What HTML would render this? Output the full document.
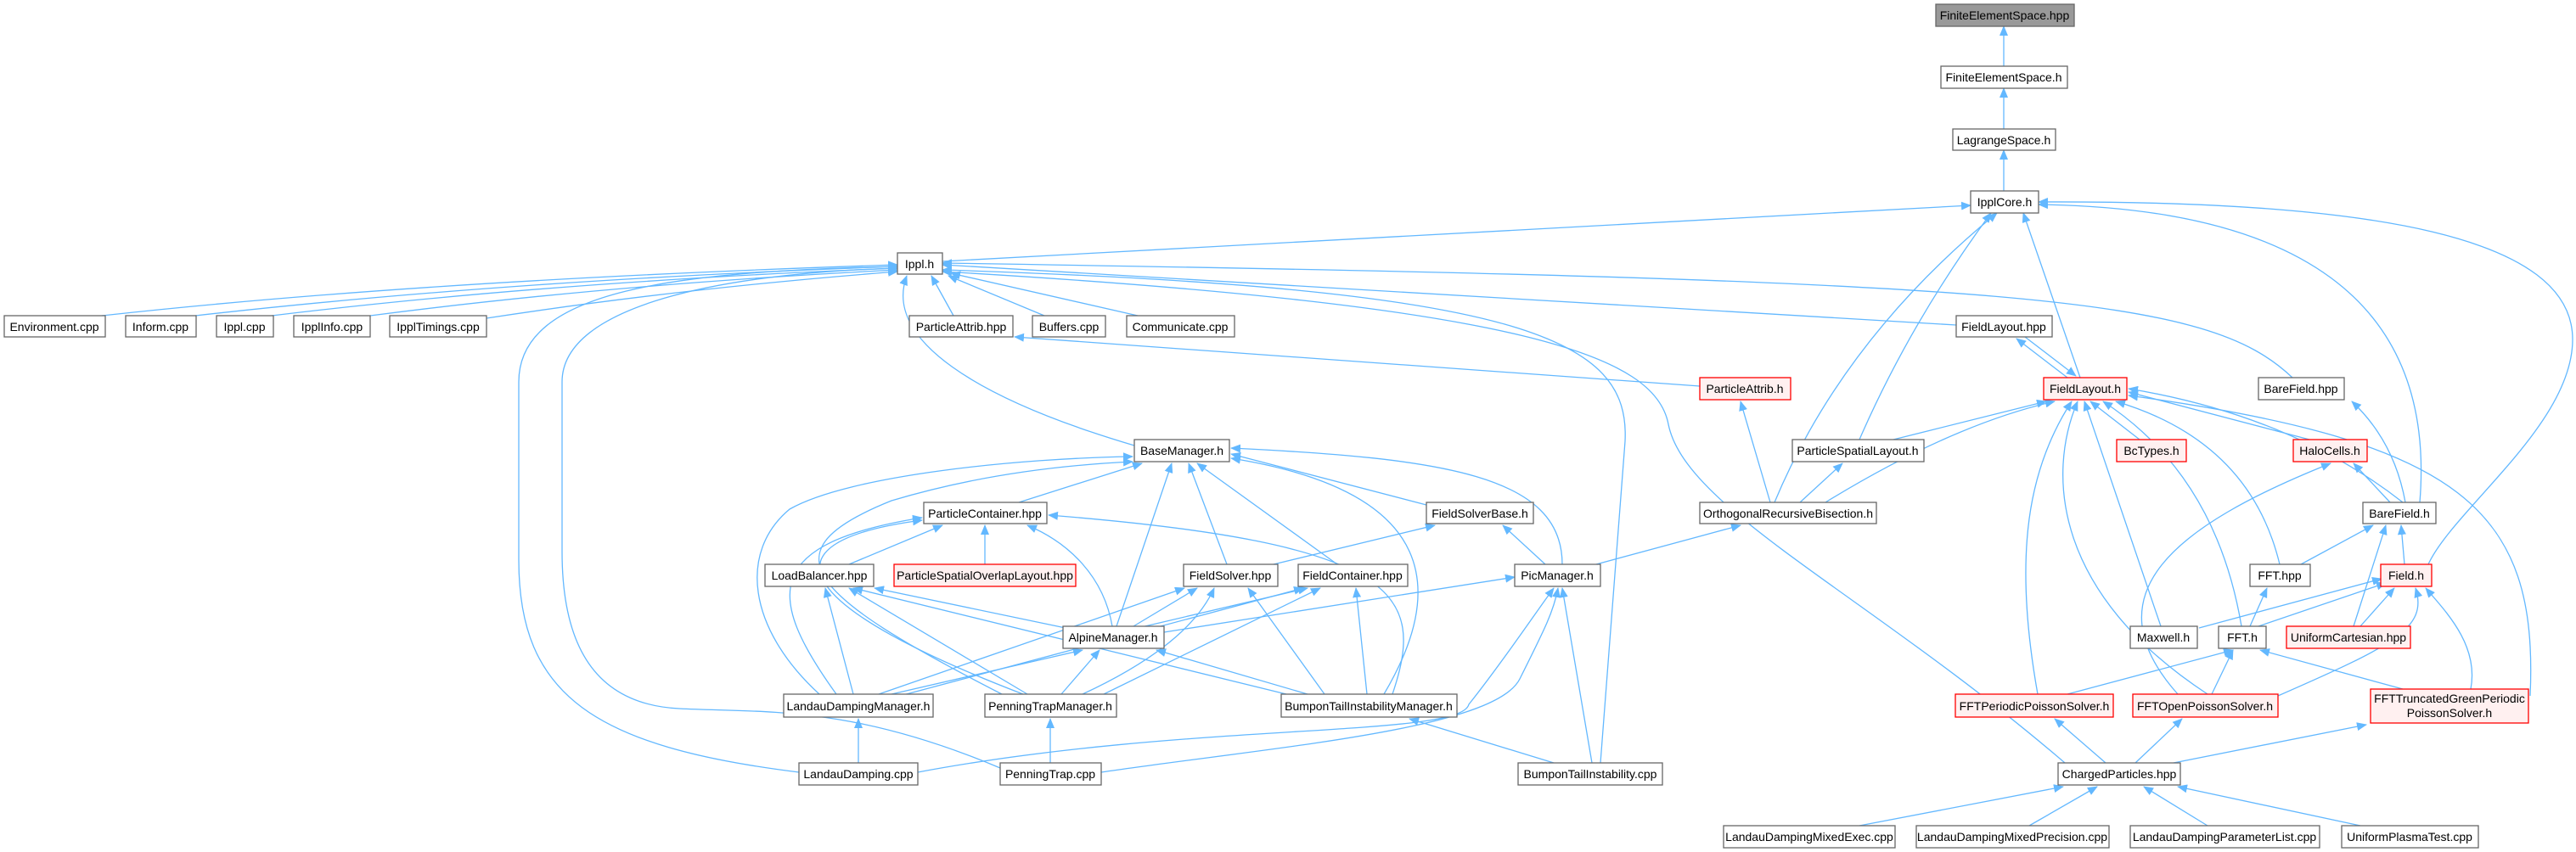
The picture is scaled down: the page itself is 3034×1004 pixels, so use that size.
<!DOCTYPE html>
<html><head><meta charset="utf-8"><style>
html,body{margin:0;padding:0;background:#fff;}
svg{display:block;}
text{font-family:"Liberation Sans",Arial,sans-serif;font-size:14px;fill:#000;text-anchor:middle;}
.e{fill:none;stroke:#63b8ff;stroke-width:1.3;marker-end:url(#a);}
.n{fill:#fff;stroke:#666;stroke-width:1.3;}
.r{fill:#fff0f0;stroke:#f00;stroke-width:1.3;}
.g{fill:#999;stroke:#666;stroke-width:1.3;}
</style></head><body>
<svg width="3034" height="1004" viewBox="0 0 3034 1004" xmlns="http://www.w3.org/2000/svg">
<defs><marker id="a" markerWidth="12" markerHeight="10" refX="11" refY="5" orient="auto" markerUnits="userSpaceOnUse"><path d="M0,0 L12,5 L0,10 z" fill="#63b8ff"/></marker></defs>
<g>
<path class="e" d="M2360 78 L2360 31"/>
<path class="e" d="M2360 152 L2360 104"/>
<path class="e" d="M2360 225 L2360 177"/>
<path class="e" d="M1110 308 L2321 242"/>
<path class="e" d="M2190 518 Q2250 380 2345 251"/>
<path class="e" d="M2090 592 Q2170 400 2352 251"/>
<path class="e" d="M2450 445 L2383 251"/>
<path class="e" d="M2850 592 C2870 350 2700 245 2401 241"/>
<path class="e" d="M2860 665 C2890 600 3030 500 3030 400 C3030 280 2800 236 2401 238"/>
<path class="e" d="M120 372 Q500 330 1057 312"/>
<path class="e" d="M230 372 Q600 330 1057 314"/>
<path class="e" d="M320 372 Q650 332 1057 316"/>
<path class="e" d="M436 372 Q720 335 1057 318"/>
<path class="e" d="M573 375 Q800 340 1057 320"/>
<path class="e" d="M1123 372 L1097 325"/>
<path class="e" d="M1230 372 L1117 325"/>
<path class="e" d="M1340 372 L1120 322"/>
<path class="e" d="M1336 525 C1150 470 1040 400 1068 325"/>
<path class="e" d="M941 910 C700 880 611 820 611 660 L611 450 C611 340 800 320 1057 314"/>
<path class="e" d="M1178 905 C1000 830 900 840 800 835 C700 830 662 760 662 650 L662 450 C662 360 850 322 1057 316"/>
<path class="e" d="M1885 899 L1914 520 C1920 400 1800 340 1110 318"/>
<path class="e" d="M2432 899 C2200 700 1985 600 1965 500 C1950 420 1800 360 1110 320"/>
<path class="e" d="M2304 383 L1110 312"/>
<path class="e" d="M2700 445 C2600 350 2400 330 1110 310"/>
<path class="e" d="M2002 455 L1195 397"/>
<path class="e" d="M2435 445 L2375 399"/>
<path class="e" d="M2385 397 L2445 443"/>
<path class="e" d="M2230 518 L2410 473"/>
<path class="e" d="M2150 592 Q2300 500 2420 473"/>
<path class="e" d="M2520 518 L2462 473"/>
<path class="e" d="M2720 518 L2507 462"/>
<path class="e" d="M2830 592 Q2700 490 2507 458"/>
<path class="e" d="M2685 665 Q2650 520 2492 473"/>
<path class="e" d="M2640 738 Q2610 560 2477 473"/>
<path class="e" d="M2545 738 L2455 473"/>
<path class="e" d="M2400 818 C2370 650 2390 550 2440 473"/>
<path class="e" d="M2600 818 C2420 700 2410 560 2447 473"/>
<path class="e" d="M2980 820 C2990 600 2900 520 2507 466"/>
<path class="e" d="M2085 592 L2050 473"/>
<path class="e" d="M2120 592 L2170 546"/>
<path class="e" d="M2833 592 Q2820 520 2770 473"/>
<path class="e" d="M2815 592 L2772 546"/>
<path class="e" d="M2565 818 C2460 700 2560 620 2745 546"/>
<path class="e" d="M2710 665 L2795 619"/>
<path class="e" d="M2832 665 L2828 619"/>
<path class="e" d="M2772 738 L2810 619"/>
<path class="e" d="M2590 740 L2805 682"/>
<path class="e" d="M2660 738 L2810 687"/>
<path class="e" d="M2780 738 L2820 693"/>
<path class="e" d="M2683 820 C2820 760 2860 740 2845 693"/>
<path class="e" d="M2910 812 C2920 760 2880 720 2857 693"/>
<path class="e" d="M2650 738 L2670 693"/>
<path class="e" d="M2435 818 L2630 766"/>
<path class="e" d="M2605 818 L2630 766"/>
<path class="e" d="M2830 812 L2662 766"/>
<path class="e" d="M2480 899 L2420 847"/>
<path class="e" d="M2515 899 L2570 847"/>
<path class="e" d="M2560 899 L2787 854"/>
<path class="e" d="M2190 973 L2430 927"/>
<path class="e" d="M2390 973 L2470 927"/>
<path class="e" d="M2600 973 L2525 927"/>
<path class="e" d="M2780 973 L2565 927"/>
<path class="e" d="M1880 665 L2050 619"/>
<path class="e" d="M1820 665 L1770 619"/>
<path class="e" d="M1840 665 C1840 560 1700 540 1450 528"/>
<path class="e" d="M1680 595 L1450 535"/>
<path class="e" d="M1200 592 L1345 546"/>
<path class="e" d="M1445 665 L1400 546"/>
<path class="e" d="M1315 738 L1380 546"/>
<path class="e" d="M1575 665 L1410 546"/>
<path class="e" d="M965 818 C880 740 870 650 930 600 C1000 560 1200 540 1334 538"/>
<path class="e" d="M1180 818 C950 700 900 650 1050 590 C1150 560 1250 548 1334 544"/>
<path class="e" d="M1630 818 C1700 700 1700 580 1450 540"/>
<path class="e" d="M1000 665 L1110 619"/>
<path class="e" d="M1160 665 L1160 619"/>
<path class="e" d="M1310 738 C1300 680 1260 640 1210 619"/>
<path class="e" d="M985 818 C900 700 900 640 1086 610"/>
<path class="e" d="M1205 818 C950 720 880 640 1086 613"/>
<path class="e" d="M1640 818 C1680 700 1650 640 1235 607"/>
<path class="e" d="M1255 740 L1030 693"/>
<path class="e" d="M1005 818 L972 693"/>
<path class="e" d="M1210 818 L1000 693"/>
<path class="e" d="M1515 818 L1005 693"/>
<path class="e" d="M1500 665 L1690 619"/>
<path class="e" d="M1335 738 L1410 693"/>
<path class="e" d="M1035 818 L1395 693"/>
<path class="e" d="M1275 818 Q1400 760 1430 693"/>
<path class="e" d="M1560 818 L1470 693"/>
<path class="e" d="M1340 740 L1540 693"/>
<path class="e" d="M1060 820 L1535 693"/>
<path class="e" d="M1300 818 L1555 693"/>
<path class="e" d="M1610 818 L1597 693"/>
<path class="e" d="M1371 745 L1784 680"/>
<path class="e" d="M1081 910 C1400 850 1720 870 1730 830 C1770 780 1810 720 1830 693"/>
<path class="e" d="M1297 910 C1500 880 1760 860 1790 800 C1820 740 1830 720 1835 693"/>
<path class="e" d="M1875 899 L1840 693"/>
<path class="e" d="M1050 818 L1275 766"/>
<path class="e" d="M1250 818 L1295 766"/>
<path class="e" d="M1540 818 L1362 766"/>
<path class="e" d="M1011 899 L1011 847"/>
<path class="e" d="M1237 899 L1237 847"/>
<path class="e" d="M1830 899 L1660 847"/>
</g>
<g>
<rect class="g" x="2280" y="5" width="163" height="26"/><text x="2361" y="23">FiniteElementSpace.hpp</text>
<rect class="n" x="2286" y="78" width="149" height="26"/><text x="2360" y="96">FiniteElementSpace.h</text>
<rect class="n" x="2300" y="152" width="121" height="25"/><text x="2360" y="170">LagrangeSpace.h</text>
<rect class="n" x="2321" y="225" width="80" height="26"/><text x="2361" y="243">IpplCore.h</text>
<rect class="n" x="1057" y="298" width="53" height="25"/><text x="1083" y="316">Ippl.h</text>
<rect class="n" x="5" y="372" width="119" height="25"/><text x="64" y="390">Environment.cpp</text>
<rect class="n" x="148" y="372" width="83" height="25"/><text x="189" y="390">Inform.cpp</text>
<rect class="n" x="255" y="372" width="67" height="25"/><text x="288" y="390">Ippl.cpp</text>
<rect class="n" x="346" y="372" width="90" height="25"/><text x="391" y="390">IpplInfo.cpp</text>
<rect class="n" x="459" y="372" width="114" height="25"/><text x="516" y="390">IpplTimings.cpp</text>
<rect class="n" x="1071" y="372" width="122" height="25"/><text x="1132" y="390">ParticleAttrib.hpp</text>
<rect class="n" x="1216" y="372" width="86" height="25"/><text x="1259" y="390">Buffers.cpp</text>
<rect class="n" x="1327" y="372" width="127" height="25"/><text x="1390" y="390">Communicate.cpp</text>
<rect class="n" x="2304" y="372" width="113" height="25"/><text x="2360" y="390">FieldLayout.hpp</text>
<rect class="r" x="2002" y="445" width="107" height="26"/><text x="2055" y="463">ParticleAttrib.h</text>
<rect class="r" x="2407" y="445" width="98" height="26"/><text x="2456" y="463">FieldLayout.h</text>
<rect class="n" x="2660" y="445" width="101" height="26"/><text x="2710" y="463">BareField.hpp</text>
<rect class="n" x="1336" y="518" width="112" height="26"/><text x="1392" y="536">BaseManager.h</text>
<rect class="n" x="2111" y="518" width="155" height="26"/><text x="2188" y="536">ParticleSpatialLayout.h</text>
<rect class="r" x="2493" y="518" width="82" height="26"/><text x="2534" y="536">BcTypes.h</text>
<rect class="r" x="2701" y="518" width="87" height="26"/><text x="2744" y="536">HaloCells.h</text>
<rect class="n" x="1088" y="592" width="145" height="25"/><text x="1160" y="610">ParticleContainer.hpp</text>
<rect class="n" x="1680" y="592" width="126" height="25"/><text x="1743" y="610">FieldSolverBase.h</text>
<rect class="n" x="2002" y="592" width="208" height="25"/><text x="2106" y="610">OrthogonalRecursiveBisection.h</text>
<rect class="n" x="2783" y="592" width="86" height="25"/><text x="2826" y="610">BareField.h</text>
<rect class="n" x="901" y="665" width="128" height="26"/><text x="965" y="683">LoadBalancer.hpp</text>
<rect class="r" x="1053" y="665" width="214" height="26"/><text x="1160" y="683">ParticleSpatialOverlapLayout.hpp</text>
<rect class="n" x="1394" y="665" width="111" height="26"/><text x="1449" y="683">FieldSolver.hpp</text>
<rect class="n" x="1529" y="665" width="129" height="26"/><text x="1593" y="683">FieldContainer.hpp</text>
<rect class="n" x="1784" y="665" width="101" height="26"/><text x="1834" y="683">PicManager.h</text>
<rect class="n" x="2650" y="665" width="71" height="26"/><text x="2685" y="683">FFT.hpp</text>
<rect class="r" x="2804" y="665" width="60" height="26"/><text x="2834" y="683">Field.h</text>
<rect class="n" x="1252" y="738" width="119" height="26"/><text x="1311" y="756">AlpineManager.h</text>
<rect class="n" x="2509" y="738" width="79" height="26"/><text x="2548" y="756">Maxwell.h</text>
<rect class="n" x="2613" y="738" width="56" height="26"/><text x="2641" y="756">FFT.h</text>
<rect class="r" x="2693" y="738" width="146" height="26"/><text x="2766" y="756">UniformCartesian.hpp</text>
<rect class="n" x="923" y="818" width="176" height="27"/><text x="1011" y="837">LandauDampingManager.h</text>
<rect class="n" x="1160" y="818" width="155" height="27"/><text x="1237" y="837">PenningTrapManager.h</text>
<rect class="n" x="1509" y="818" width="207" height="27"/><text x="1612" y="837">BumponTailInstabilityManager.h</text>
<rect class="r" x="2303" y="818" width="186" height="27"/><text x="2396" y="837">FFTPeriodicPoissonSolver.h</text>
<rect class="r" x="2512" y="818" width="171" height="27"/><text x="2597" y="837">FFTOpenPoissonSolver.h</text>
<rect class="r" x="2792" y="812" width="186" height="40"/><text x="2885" y="828">FFTTruncatedGreenPeriodic</text><text x="2885" y="845">PoissonSolver.h</text>
<rect class="n" x="941" y="899" width="140" height="26"/><text x="1011" y="917">LandauDamping.cpp</text>
<rect class="n" x="1178" y="899" width="119" height="26"/><text x="1237" y="917">PenningTrap.cpp</text>
<rect class="n" x="1788" y="899" width="170" height="26"/><text x="1873" y="917">BumponTailInstability.cpp</text>
<rect class="n" x="2424" y="899" width="144" height="26"/><text x="2496" y="917">ChargedParticles.hpp</text>
<rect class="n" x="2030" y="973" width="202" height="26"/><text x="2131" y="991">LandauDampingMixedExec.cpp</text>
<rect class="n" x="2257" y="973" width="227" height="26"/><text x="2370" y="991">LandauDampingMixedPrecision.cpp</text>
<rect class="n" x="2509" y="973" width="223" height="26"/><text x="2620" y="991">LandauDampingParameterList.cpp</text>
<rect class="n" x="2758" y="973" width="161" height="26"/><text x="2838" y="991">UniformPlasmaTest.cpp</text>
</g>
</svg>
</body></html>
